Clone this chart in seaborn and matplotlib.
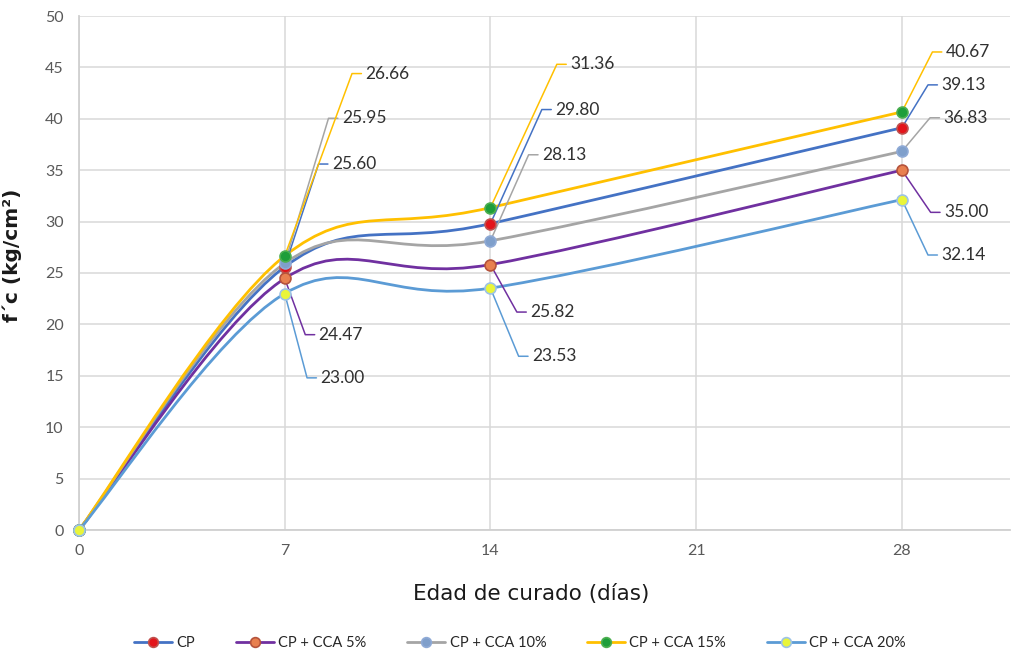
import matplotlib
matplotlib.use("Agg")
import matplotlib.pyplot as plt
from matplotlib.path import Path
from matplotlib.patches import PathPatch
from matplotlib.lines import Line2D
import seaborn as sns
import pandas as pd

# Curing age (days) and compressive strength f'c (kg/cm2)
dias = [0, 7, 14, 28]
cp = [0, 25.60, 29.80, 39.13]
cca5 = [0, 24.47, 25.82, 35.00]
cca10 = [0, 25.95, 28.13, 36.83]
cca15 = [0, 26.66, 31.36, 40.67]
cca20 = [0, 23.00, 23.53, 32.14]
series_names = ["CP", "CP + CCA 5%", "CP + CCA 10%", "CP + CCA 15%", "CP + CCA 20%"]
series_values = [cp, cca5, cca10, cca15, cca20]

# style per series: line colour, marker face, marker edge
styles = {
    "CP": ("#4472C4", "#E3141B", "#C0504D"),
    "CP + CCA 5%": ("#7030A0", "#E8804F", "#B5533C"),
    "CP + CCA 10%": ("#A5A5A5", "#7F9FCB", "#8FAAD6"),
    "CP + CCA 15%": ("#FFC000", "#1E9E3A", "#4CAF50"),
    "CP + CCA 20%": ("#5B9BD5", "#E9F53A", "#9DC3E6"),
}

# elbow positions (x, y) of the callout leaders for the points at 7, 14 and 28 days
callouts = {
    "CP": [(8.15, 35.6), (15.75, 40.9), (28.89, 43.3)],
    "CP + CCA 5%": [(7.70, 19.0), (14.90, 21.2), (28.98, 30.9)],
    "CP + CCA 10%": [(8.49, 40.05), (15.30, 36.5), (28.96, 40.1)],
    "CP + CCA 15%": [(9.29, 44.4), (16.26, 45.3), (29.04, 46.5)],
    "CP + CCA 20%": [(7.76, 14.8), (14.96, 16.9), (28.89, 26.75)],
}

sns.set_theme(style="white")
plt.rcParams["font.family"] = ["Lato", "DejaVu Sans"]

fig = plt.figure(figsize=(10.14, 6.56), dpi=100)
ax = fig.add_axes([79 / 1014, 1 - 530 / 656, 931 / 1014, 514 / 656])

ax.set_xlim(0, 31.68)
ax.set_ylim(0, 50)
ax.set_xticks([0, 7, 14, 21, 28])
ax.set_yticks(range(0, 51, 5))
ax.grid(True, color="#D9D9D9", linewidth=1.1)
ax.set_axisbelow(True)
for s in ["top", "right"]:
    ax.spines[s].set_visible(False)
for s in ["left", "bottom"]:
    ax.spines[s].set_color("#D0D0D0")
    ax.spines[s].set_linewidth(1.3)
ax.tick_params(axis="both", length=0, labelsize=11.5, labelcolor="#595959")
ax.tick_params(axis="x", pad=10)
ax.tick_params(axis="y", pad=11)


def smooth_path(xs, ys):
    """Cubic Bezier path through the points (spreadsheet-style smoothed line)."""
    pts = list(zip(xs, ys))
    n = len(pts)
    verts = [pts[0]]
    codes = [Path.MOVETO]
    for i in range(n - 1):
        p0 = pts[i - 1] if i > 0 else pts[i]
        p1 = pts[i]
        p2 = pts[i + 1]
        p3 = pts[i + 2] if i + 2 < n else pts[i + 1]
        c1 = (p1[0] + (p2[0] - p0[0]) / 6, p1[1] + (p2[1] - p0[1]) / 6)
        c2 = (p2[0] - (p3[0] - p1[0]) / 6, p2[1] - (p3[1] - p1[1]) / 6)
        verts += [c1, c2, p2]
        codes += [Path.CURVE4] * 3
    return Path(verts, codes)


handles = []
for name, vals in zip(series_names, series_values):
    lc, fc, ec = styles[name]
    ax.add_patch(PathPatch(smooth_path(dias, vals), fill=False, edgecolor=lc,
                           linewidth=2.0, capstyle="round", zorder=3))
    handles.append(Line2D([0], [0], color=lc, linewidth=2.0, marker="o",
                          markersize=7, markerfacecolor=fc, markeredgecolor=ec,
                          markeredgewidth=1.2))

# leader lines and value labels
for name, vals in zip(series_names, series_values):
    lc = styles[name][0]
    for (ex, ey), x, v in zip(callouts[name], dias[1:], vals[1:]):
        ax.plot([x, ex, ex + 0.32], [v, ey, ey], color=lc, linewidth=1.1, zorder=4)
        ax.text(ex + 0.45, ey, f"{v:.2f}", fontsize=12.5, color="#303030",
                va="center", ha="left", zorder=6)

for name, vals in zip(series_names, series_values):
    lc, fc, ec = styles[name]
    df = pd.DataFrame({"dias": dias, "fc": vals})
    sns.scatterplot(data=df, x="dias", y="fc", ax=ax, s=62, color=fc,
                    edgecolor=ec, linewidth=1.2, zorder=5, clip_on=False,
                    legend=False)

ax.set_xlabel("Edad de curado (días)", fontsize=15.5, color="#1A1A1A",
              family=["DejaVu Sans"])
ax.set_ylabel("f´c (kg/cm²)", fontsize=14.5, color="#1A1A1A", fontweight="bold",
              family=["DejaVu Sans"])
ax.xaxis.set_label_coords((531 - 79) / 931, -0.105)
ax.yaxis.set_label_coords(-0.061, 0.535)

fig.legend(handles=handles, labels=series_names, loc="center",
           bbox_to_anchor=(520 / 1014, 1 - 643 / 656), ncol=5, frameon=False,
           fontsize=10.5, handlelength=2.6, columnspacing=2.8, handletextpad=0.3,
           labelcolor="#262626")

fig.savefig("out.png", dpi=100)
